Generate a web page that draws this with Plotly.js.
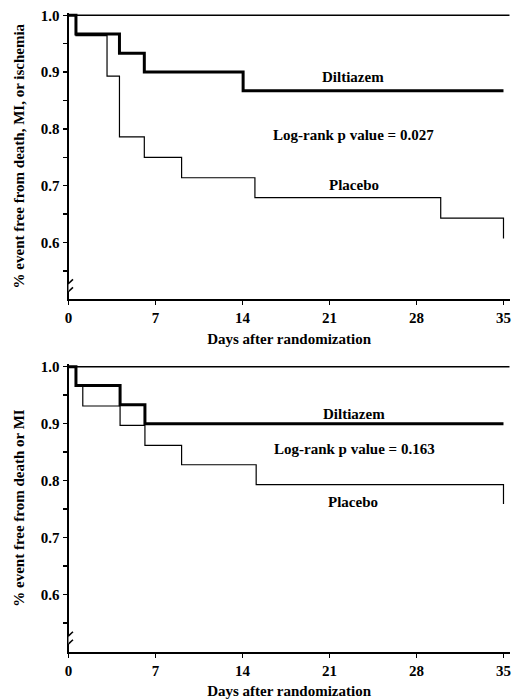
<!DOCTYPE html>
<html>
<head>
<meta charset="utf-8">
<script src="https://cdn.plot.ly/plotly-3.0.1.min.js"></script>
<style>
  html, body { margin: 0; padding: 0; background: #fff; }
  #chart { width: 512px; height: 699px; }
</style>
</head>
<body>
<div id="chart"></div>
<script>
// ---- Data ----
// Panel A: death, MI, or ischemia
const topDiltiazemDays   = [0, 0.6, 4.1, 6.1, 14.05, 35];
const topDiltiazemSurv   = [1.0, 0.967, 0.933, 0.900, 0.867, 0.867];
const topPlaceboDays     = [0, 0.6, 3.1, 4.1, 6.1, 9.1, 15.0, 29.95, 35];
const topPlaceboSurv     = [1.0, 0.964, 0.893, 0.786, 0.750, 0.714, 0.679, 0.643, 0.607];
// Panel B: death or MI
const botDiltiazemDays   = [0, 0.6, 4.15, 6.15, 35];
const botDiltiazemSurv   = [1.0, 0.967, 0.933, 0.900, 0.900];
const botPlaceboDays     = [0, 0.6, 1.15, 4.15, 6.15, 9.1, 15.1, 35];
const botPlaceboSurv     = [1.0, 0.966, 0.931, 0.897, 0.862, 0.828, 0.793, 0.759];

const xTickVals  = [0, 7, 14, 21, 28, 35];
const xTickText  = ['0', '7', '14', '21', '28', '35'];
const yTickVals  = [0.6, 0.7, 0.8, 0.9, 1.0];
const yTickText  = ['0.6', '0.7', '0.8', '0.9', '1.0'];
const yMinorVals = [0.55, 0.65, 0.75, 0.85, 0.95];

const seriesNames = ['Diltiazem', 'Placebo'];
const topTitleY = '% event free from death, MI, or ischemia';
const botTitleY = '% event free from death or MI';
const xTitle = 'Days after randomization';
const topPText = 'Log-rank p value = 0.027';
const botPText = 'Log-rank p value = 0.163';

// ---- Styling ----
const FONT = "'Liberation Serif', 'Times New Roman', Times, serif";
const BOLD = (s) => '<b>' + s + '</b>';
const thick = {color: '#000', width: 3, shape: 'hv'};
const thin  = {color: '#000', width: 1.2, shape: 'hv'};

const traces = [
  {x: topDiltiazemDays, y: topDiltiazemSurv, mode: 'lines', line: thick, xaxis: 'x', yaxis: 'y', name: seriesNames[0]},
  {x: topPlaceboDays,   y: topPlaceboSurv,   mode: 'lines', line: thin,  xaxis: 'x', yaxis: 'y', name: seriesNames[1]},
  {x: botDiltiazemDays, y: botDiltiazemSurv, mode: 'lines', line: thick, xaxis: 'x2', yaxis: 'y2', name: seriesNames[0]},
  {x: botPlaceboDays,   y: botPlaceboSurv,   mode: 'lines', line: thin,  xaxis: 'x2', yaxis: 'y2', name: seriesNames[1]}
];

// combine labelled ticks with unlabelled intermediate ticks
const yAllVals = yTickVals.concat(yMinorVals);
const yAllText = yTickText.map(BOLD).concat(yMinorVals.map(() => ''));

const W = 512, H = 699;
const xDom = [68.5 / W, 509.7 / W];
const yRange = [0.5, 1.004];
const topDom = [(H - 299.3) / H, (H - 13.0) / H];
const botDom = [(H - 651.7) / H, (H - 364.4) / H];

function xAxis(anchor) {
  return {
    domain: xDom, range: [0, 35.5], anchor: anchor,
    showline: true, linecolor: '#000', linewidth: 2,
    showgrid: false, zeroline: false,
    tickmode: 'array', tickvals: xTickVals, ticktext: xTickText.map(BOLD),
    ticks: 'outside', ticklen: 4, tickwidth: 1.5, tickcolor: '#000',
    tickfont: {family: FONT, size: 15, color: '#000'},
    title: {text: BOLD(xTitle), font: {family: FONT, size: 15, color: '#000'}, standoff: 8}
  };
}
function yAxis(anchor, dom, title) {
  return {
    domain: dom, range: yRange, anchor: anchor,
    showline: true, linecolor: '#000', linewidth: 2,
    showgrid: false, zeroline: false,
    tickmode: 'array', tickvals: yAllVals, ticktext: yAllText,
    ticks: 'outside', ticklen: 4, tickwidth: 1.5, tickcolor: '#000',
    tickfont: {family: FONT, size: 15, color: '#000'},
    title: {text: BOLD(title), font: {family: FONT, size: 15, color: '#000'}, standoff: 12}
  };
}

function label(xref, yref, x, y, text) {
  return {xref: xref, yref: yref, x: x, y: y, text: BOLD(text), showarrow: false,
          font: {family: FONT, size: 15, color: '#000'}, xanchor: 'center', yanchor: 'middle'};
}

function frameAndBreak(xref, yref) {
  return [
    {type: 'line', xref: xref, yref: yref, x0: 0, x1: 35.5, y0: 1.0, y1: 1.0, line: {color: '#000', width: 1.5}},
    {type: 'rect', xref: xref, yref: yref, x0: -0.15, x1: 0.15, y0: 0.514, y1: 0.527, fillcolor: '#fff', line: {width: 0}},
    {type: 'line', xref: xref, yref: yref, x0: -0.38, x1: 0.36, y0: 0.520, y1: 0.535, line: {color: '#000', width: 1.5}},
    {type: 'line', xref: xref, yref: yref, x0: -0.38, x1: 0.36, y0: 0.506, y1: 0.521, line: {color: '#000', width: 1.5}}
  ];
}

const layout = {
  width: W, height: H,
  margin: {l: 0, r: 0, t: 0, b: 0},
  paper_bgcolor: '#fff', plot_bgcolor: '#fff',
  showlegend: false,
  font: {family: FONT, color: '#000'},
  xaxis: xAxis('y'),
  yaxis: yAxis('x', topDom, topTitleY),
  xaxis2: xAxis('y2'),
  yaxis2: yAxis('x2', botDom, botTitleY),
  annotations: [
    label('x', 'y', 22.9, 0.891, seriesNames[0]),
    label('x', 'y', 22.9, 0.789, topPText),
    label('x', 'y', 23.0, 0.701, seriesNames[1]),
    label('x2', 'y2', 23.0, 0.917, seriesNames[0]),
    label('x2', 'y2', 23.0, 0.855, botPText),
    label('x2', 'y2', 22.9, 0.762, seriesNames[1])
  ],
  shapes: frameAndBreak('x', 'y').concat(frameAndBreak('x2', 'y2'))
};

Plotly.newPlot('chart', traces, layout, {staticPlot: true, displayModeBar: false});
</script>
</body>
</html>
